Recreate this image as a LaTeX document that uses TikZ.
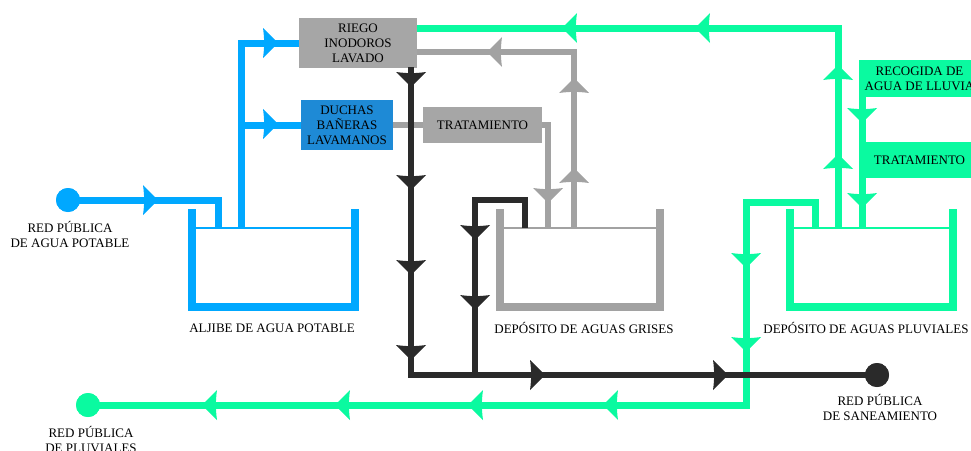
\documentclass[tikz,border=0pt]{standalone}
\usepackage{fontspec}
\setmainfont{Liberation Serif}
\definecolor{blueC}{RGB}{0,168,255}
\definecolor{duchC}{RGB}{30,138,214}
\definecolor{greenC}{RGB}{10,250,160}
\definecolor{grayC}{RGB}{162,162,162}
\definecolor{boxG}{RGB}{166,166,166}
\definecolor{darkC}{RGB}{42,42,42}
\tikzset{
  tri/.pic={\fill[pic actions] (0,0) -- (-15,-15) .. controls (-13.5,-4) and (-13.5,4) .. (-15,15) -- cycle;},
  txt/.style={font=\fontsize{13}{15}\selectfont, text=black, align=center, inner sep=0pt},
  box/.style={txt, minimum height=#1},
  bl/.style={draw=blueC, line width=7pt},
  gl/.style={draw=grayC, line width=6.5pt},
  gr/.style={draw=greenC, line width=7pt},
  dk/.style={draw=darkC, line width=6pt},
  tank/.style={draw=#1, line width=8pt},
  rim/.style={draw=#1, line width=1.4pt},
  dot/.style={circle, minimum size=24pt, inner sep=0pt}
}
\begin{document}
\begin{tikzpicture}[x=1pt,y=-1pt]
\path[use as bounding box] (0,0) rectangle (971,450);
\clip (0,0) rectangle (971,450);

% boxes
\node[box=50pt, minimum width=118pt, fill=boxG] (riego) at (358,43) {RIEGO\\INODOROS\\LAVADO};
\node[box=50pt, minimum width=92pt, fill=duchC] (duchas) at (347,125) {DUCHAS\\BAÑERAS\\LAVAMANOS};
\node[box=36pt, minimum width=119pt, fill=boxG] (tratG) at (482.5,125) {TRATAMIENTO};
\node[box=37pt, minimum width=121pt, fill=greenC] (recog) at (919.5,78.5) {RECOGIDA DE\\AGUA DE LLUVIA};
\node[box=36pt, minimum width=121pt, fill=greenC] (tratP) at (919.5,160) {TRATAMIENTO};

% connection coordinates
\coordinate (tA1) at (218,228);
\coordinate (tA2) at (241,228);
\coordinate (tG1) at (525,228);
\coordinate (tG2) at (548,228);
\coordinate (tG3) at (574,228);
\coordinate (tP1) at (815,228);
\coordinate (tP2) at (838,228);
\coordinate (tP3) at (862,228);
\coordinate (r1) at (417,28);
\coordinate (r2) at (417,52);
\coordinate (d1) at (411,67);
\coordinate (dk2) at (475,200);
\coordinate (gk) at (746,202);

% tanks
\draw[tank=blueC] (192,209) |- (355,307) -- (355,209);
\draw[rim=blueC] (196,228) -- (351,228);
\node[txt] (lA) at (272,328) {ALJIBE DE AGUA POTABLE};
\draw[tank=grayC] (500,209) |- (660,307) -- (660,209);
\draw[rim=grayC] (504,228) -- (656,228);
\node[txt] (lG) at (584,328) {DEPÓSITO DE AGUAS GRISES};
\draw[tank=greenC] (790,209) |- (953,307) -- (953,209);
\draw[rim=greenC] (794,228) -- (949,228);
\node[txt] (lP) at (866,328) {DEPÓSITO DE AGUAS PLUVIALES};

% end points
\node[dot, fill=blueC] (cb) at (68,200) {};
\node[dot, fill=greenC] (cp) at (88,405) {};
\node[dot, fill=darkC] (cs) at (877,375) {};
\node[txt] (lcb) at (70,234.5) {RED PÚBLICA\\DE AGUA POTABLE};
\node[txt] (lcp) at (91,439.5) {RED PÚBLICA\\DE PLUVIALES};
\node[txt] (lcs) at (880,407.5) {RED PÚBLICA\\DE SANEAMIENTO};

% grey lines
\draw[gl] (duchas.east) -- (tratG.west);
\draw[gl] (tratG.east) -| (tG2);
\draw[gl] (tG3) |- (r2);

% green lines
\draw[gr] (tP2) |- (r1);
\draw[gr] (tP3 |- recog.south) -- (tP3 |- tratP.north);
\draw[gr] (tP3 |- tratP.south) -- (tP3);
\draw[gr] (tP1) |- (gk) |- (cp.center);

% blue lines
\draw[bl] (cb.center) -| (tA1);
\draw[bl] (tA2) |- (riego.west);
\draw[bl] (tA2 |- duchas.west) -- (duchas.west);

% dark lines
\draw[dk] (d1) |- (cs.center);
\draw[dk] (tG1) |- (dk2) |- (cs.center);

% redraw end dots on top
\node[dot, fill=blueC] at (cb) {};
\node[dot, fill=greenC] at (cp) {};
\node[dot, fill=darkC] at (cs) {};

% arrows blue
\pic[fill=blueC] at (158,200) {tri};
\pic[fill=blueC] at (278,43) {tri};
\pic[fill=blueC] at (278,124) {tri};
% arrows dark
\pic[fill=darkC, rotate=-90] at (411,87) {tri};
\pic[fill=darkC, rotate=-90] at (411,190) {tri};
\pic[fill=darkC, rotate=-90] at (411,275) {tri};
\pic[fill=darkC, rotate=-90] at (411,360) {tri};
\pic[fill=darkC, rotate=-90] at (475,240) {tri};
\pic[fill=darkC, rotate=-90] at (475,310) {tri};
\pic[fill=darkC] at (545,375) {tri};
\pic[fill=darkC] at (728,375) {tri};
% arrows grey
\pic[fill=grayC, rotate=-90] at (548,203) {tri};
\pic[fill=grayC, rotate=90] at (574,168) {tri};
\pic[fill=grayC, rotate=90] at (574,78) {tri};
\pic[fill=grayC, rotate=180] at (487,52) {tri};
% arrows green
\pic[fill=greenC, rotate=90] at (838,65) {tri};
\pic[fill=greenC, rotate=90] at (838,154) {tri};
\pic[fill=greenC, rotate=180] at (695,28) {tri};
\pic[fill=greenC, rotate=180] at (562,28) {tri};
\pic[fill=greenC, rotate=-90] at (862,123) {tri};
\pic[fill=greenC, rotate=-90] at (862,208) {tri};
\pic[fill=greenC, rotate=-90] at (746,268) {tri};
\pic[fill=greenC, rotate=-90] at (746,352) {tri};
\pic[fill=greenC, rotate=180] at (603,405) {tri};
\pic[fill=greenC, rotate=180] at (468,405) {tri};
\pic[fill=greenC, rotate=180] at (335,405) {tri};
\pic[fill=greenC, rotate=180] at (202,405) {tri};
\end{tikzpicture}
\end{document}
